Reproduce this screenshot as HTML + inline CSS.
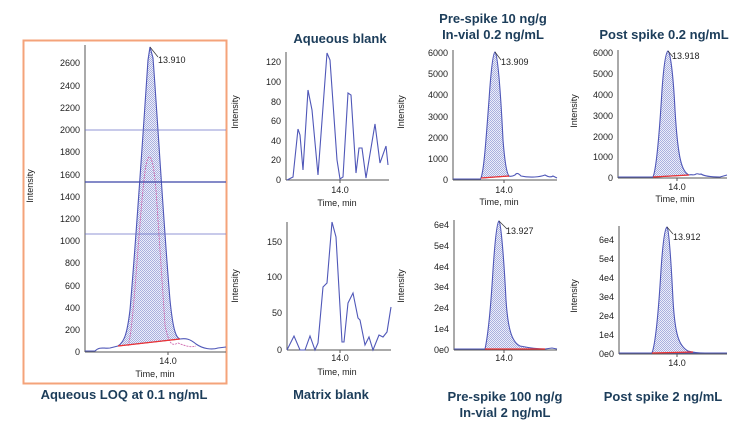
<!DOCTYPE html>
<html><head><meta charset="utf-8"><style>
html,body{margin:0;padding:0;background:#fff;}
svg{display:block;font-family:"Liberation Sans",Arial,sans-serif;}
.t{font-size:9px;fill:#222;}
.ti{font-size:13px;font-weight:bold;fill:#1c3d5a;}
.ax{stroke:#555;stroke-width:1;fill:none;}
.ln{stroke:#4f57b8;stroke-width:1.1;fill:none;}
.pk{stroke:#4f57b8;stroke-width:1.1;fill:url(#hat);}
.bl{stroke:#e33;stroke-width:1.2;}
</style></head><body>
<svg width="750" height="429" viewBox="0 0 750 429">
<defs>
<pattern id="hat" width="2" height="2" patternUnits="userSpaceOnUse">
<rect width="2" height="2" fill="#eceefa"/><rect width="1" height="1" fill="#aab0de"/><rect x="1" y="1" width="1" height="1" fill="#aab0de"/>
</pattern>
</defs>

<!-- Panel 1 -->
<rect x="23.5" y="40.5" width="203" height="343" fill="none" stroke="#f4a37a" stroke-width="2"/>
<line class="ax" x1="85" y1="45" x2="85" y2="352"/>
<line class="ax" x1="85" y1="352" x2="226" y2="352"/>
<line x1="168" y1="352" x2="168" y2="355" stroke="#555"/>
<g class="t" text-anchor="end">
<text x="80" y="355">0</text><text x="80" y="333">200</text><text x="80" y="311">400</text><text x="80" y="289">600</text><text x="80" y="266">800</text><text x="80" y="244">1000</text><text x="80" y="222">1200</text><text x="80" y="200">1400</text><text x="80" y="178">1600</text><text x="80" y="155">1800</text><text x="80" y="133">2000</text><text x="80" y="111">2200</text><text x="80" y="89">2400</text><text x="80" y="66">2600</text>
</g>
<path class="pk" d="M118,346 C124,342 127,335 130,310 C136,240 144,120 148,60 L150,47 L153,58 C157,110 164,230 170,300 C173,330 176,338 180,339 Z"/>
<path class="ln" d="M85,351 L95,351 C100,346 104,349 110,348 L118,346"/>
<path class="ln" d="M180,339 C186,338 190,339 196,344 C203,349 212,350 218,348 L226,347"/>
<path d="M128,346 C134,330 140,200 146,165 C149,150 153,155 156,190 L165,325 C169,345 172,346 178,343 C183,345 190,348 196,346" stroke="#d06ab0" stroke-width="0.9" fill="none" stroke-dasharray="2,1"/>
<line class="bl" x1="118" y1="346" x2="180" y2="339"/>
<line x1="150" y1="47" x2="158" y2="57" stroke="#333" stroke-width="0.7"/>
<text class="t" x="158" y="63" font-size="6.5">13.910</text>
<line x1="85" y1="130" x2="226" y2="130" stroke="#6b73c8" stroke-width="0.8"/>
<line x1="85" y1="182" x2="226" y2="182" stroke="#3b44a8" stroke-width="1.2"/>
<line x1="85" y1="234" x2="226" y2="234" stroke="#6b73c8" stroke-width="0.8"/>
<text class="t" x="168" y="364" text-anchor="middle" font-size="9">14.0</text>
<text class="t" x="155" y="377" text-anchor="middle" font-size="9">Time, min</text>
<text class="t" transform="translate(33,186) rotate(-90)" text-anchor="middle" font-size="9">Intensity</text>
<text class="ti" x="124" y="399" text-anchor="middle">Aqueous LOQ at 0.1 ng/mL</text>

<!-- Aqueous blank -->
<text class="ti" x="340" y="43" text-anchor="middle">Aqueous blank</text>
<line class="ax" x1="286" y1="52" x2="286" y2="180"/>
<line class="ax" x1="286" y1="180" x2="389" y2="180"/>
<line x1="340" y1="180" x2="340" y2="183" stroke="#555"/>
<g class="t" text-anchor="end">
<text x="281" y="183">0</text><text x="281" y="163">20</text><text x="281" y="144">40</text><text x="281" y="124">60</text><text x="281" y="105">80</text><text x="281" y="85">100</text><text x="281" y="65">120</text>
</g>
<path class="ln" d="M287,180 L293,177 L298,129 L300,135 L303,170 L308,90 L312,110 L318,175 L327,53 L330,60 L337,160 L340,179 L343,177 L348,93 L351,95 L356,173 L359,148 L362,148 L366,178 L375,124 L380,163 L386,146 L388,165"/>
<text class="t" x="340" y="193" text-anchor="middle" font-size="9">14.0</text>
<text class="t" x="337" y="206" text-anchor="middle" font-size="9">Time, min</text>
<text class="t" transform="translate(238,112) rotate(-90)" text-anchor="middle" font-size="9">Intensity</text>

<!-- Matrix blank -->
<line class="ax" x1="287" y1="222" x2="287" y2="350"/>
<line class="ax" x1="287" y1="350" x2="391" y2="350"/>
<line x1="340" y1="350" x2="340" y2="353" stroke="#555"/>
<g class="t" text-anchor="end">
<text x="282" y="353">0</text><text x="282" y="316">50</text><text x="282" y="280">100</text><text x="282" y="245">150</text>
</g>
<path class="ln" d="M287,350 L294,336 L300,350 L305,350 L310,336 L315,350 L318,343 L323,287 L327,283 L332,222 L336,237 L342,342 L344,342 L348,303 L353,293 L358,318 L360,320 L365,345 L369,337 L373,350 L379,335 L383,337 L387,332 L391,307"/>
<text class="t" x="340" y="361" text-anchor="middle" font-size="9">14.0</text>
<text class="t" x="337" y="375" text-anchor="middle" font-size="9">Time, min</text>
<text class="t" transform="translate(238,286) rotate(-90)" text-anchor="middle" font-size="9">Intensity</text>
<text class="ti" x="331" y="399" text-anchor="middle">Matrix blank</text>

<!-- Pre-spike top -->
<text class="ti" x="493" y="23" text-anchor="middle">Pre-spike 10 ng/g</text>
<text class="ti" x="493" y="39" text-anchor="middle">In-vial 0.2 ng/mL</text>
<line class="ax" x1="453" y1="50" x2="453" y2="180"/>
<line class="ax" x1="453" y1="180" x2="557" y2="180"/>
<line x1="504" y1="180" x2="504" y2="183" stroke="#555"/>
<g class="t" text-anchor="end">
<text x="448" y="183">0</text><text x="448" y="162">1000</text><text x="448" y="141">2000</text><text x="448" y="120">3000</text><text x="448" y="98">4000</text><text x="448" y="77">5000</text><text x="448" y="56">6000</text>
</g>
<path class="pk" d="M481,178 C484,170 486,140 489,100 C491,70 493,53 495,52 C498,55 501,100 503,140 C505,165 507,174 509,176 Z"/>
<path class="ln" d="M453,179 L481,179 M509,176 C511,177 513,176 515,175 C517,172 519,174 521,176 C530,178 540,177 545,175 C547,176 550,178 553,176 L557,178"/>
<line class="bl" x1="481" y1="178" x2="509" y2="176"/>
<line x1="495" y1="52" x2="501" y2="60" stroke="#333" stroke-width="0.7"/>
<text class="t" x="501" y="65" font-size="6">13.909</text>
<text class="t" x="504" y="193" text-anchor="middle" font-size="9">14.0</text>
<text class="t" x="499" y="205" text-anchor="middle" font-size="9">Time, min</text>
<text class="t" transform="translate(404,112) rotate(-90)" text-anchor="middle" font-size="9">Intensity</text>

<!-- Pre-spike bottom -->
<line class="ax" x1="454" y1="220" x2="454" y2="350"/>
<line class="ax" x1="454" y1="350" x2="557" y2="350"/>
<line x1="504" y1="350" x2="504" y2="353" stroke="#555"/>
<g class="t" text-anchor="end">
<text x="449" y="353">0e0</text><text x="449" y="332">1e4</text><text x="449" y="311">2e4</text><text x="449" y="290">3e4</text><text x="449" y="270">4e4</text><text x="449" y="249">5e4</text><text x="449" y="228">6e4</text>
</g>
<path class="pk" d="M485,349 C487,340 490,320 493,270 C495,240 497,222 499,221 C501,223 504,260 506,300 C508,330 512,342 520,346 C530,348 540,349 545,349 Z"/>
<path class="ln" d="M454,349 L485,349 M545,349 L552,348 L557,349"/>
<line class="bl" x1="485" y1="349" x2="545" y2="349"/>
<line x1="499" y1="221" x2="507" y2="229" stroke="#333" stroke-width="0.7"/>
<text class="t" x="506" y="234" font-size="6">13.927</text>
<text class="t" x="504" y="361" text-anchor="middle" font-size="9">14.0</text>
<text class="t" transform="translate(404,286) rotate(-90)" text-anchor="middle" font-size="9">Intensity</text>
<text class="ti" x="505" y="401" text-anchor="middle">Pre-spike 100 ng/g</text>
<text class="ti" x="505" y="417" text-anchor="middle">In-vial 2 ng/mL</text>

<!-- Post spike top -->
<text class="ti" x="664" y="39" text-anchor="middle">Post spike 0.2 ng/mL</text>
<line class="ax" x1="618" y1="50" x2="618" y2="178"/>
<line class="ax" x1="618" y1="178" x2="727" y2="178"/>
<line x1="677" y1="178" x2="677" y2="181" stroke="#555"/>
<g class="t" text-anchor="end">
<text x="613" y="181">0</text><text x="613" y="160">1000</text><text x="613" y="140">2000</text><text x="613" y="119">3000</text><text x="613" y="98">4000</text><text x="613" y="77">5000</text><text x="613" y="56">6000</text>
</g>
<path class="pk" d="M653,177 C656,170 659,140 662,90 C664,62 666,52 668,51 C670,52 673,70 675,110 C678,160 682,172 689,175 Z"/>
<path class="ln" d="M618,177 L653,177 M689,175 C692,174 694,176 696,174 C698,173 699,175 701,174 C704,176 710,177 720,177 L727,175"/>
<line class="bl" x1="653" y1="177" x2="689" y2="175"/>
<line x1="668" y1="51" x2="673" y2="57" stroke="#333" stroke-width="0.7"/>
<text class="t" x="672" y="59" font-size="6">13.918</text>
<text class="t" x="677" y="190" text-anchor="middle" font-size="9">14.0</text>
<text class="t" x="675" y="202" text-anchor="middle" font-size="9">Time, min</text>
<text class="t" transform="translate(577,111) rotate(-90)" text-anchor="middle" font-size="9">Intensity</text>

<!-- Post spike bottom -->
<line class="ax" x1="619" y1="226" x2="619" y2="354"/>
<line class="ax" x1="619" y1="354" x2="727" y2="354"/>
<line x1="677" y1="354" x2="677" y2="357" stroke="#555"/>
<g class="t" text-anchor="end">
<text x="614" y="357">0e0</text><text x="614" y="338">1e4</text><text x="614" y="319">2e4</text><text x="614" y="300">3e4</text><text x="614" y="281">4e4</text><text x="614" y="262">5e4</text><text x="614" y="243">6e4</text>
</g>
<path class="pk" d="M652,353 C655,345 658,320 661,270 C663,240 665,228 667,227 C669,229 671,260 673,300 C675,335 679,346 688,351 C695,353 700,353 705,353 Z"/>
<path class="ln" d="M619,353 L652,353 M705,353 L727,353"/>
<line class="bl" x1="652" y1="353" x2="693" y2="352"/>
<line x1="667" y1="227" x2="673" y2="234" stroke="#333" stroke-width="0.7"/>
<text class="t" x="673" y="240" font-size="6">13.912</text>
<text class="t" x="677" y="366" text-anchor="middle" font-size="9">14.0</text>
<text class="t" transform="translate(577,296) rotate(-90)" text-anchor="middle" font-size="9">Intensity</text>
<text class="ti" x="663" y="401" text-anchor="middle">Post spike 2 ng/mL</text>
</svg>
</body></html>
